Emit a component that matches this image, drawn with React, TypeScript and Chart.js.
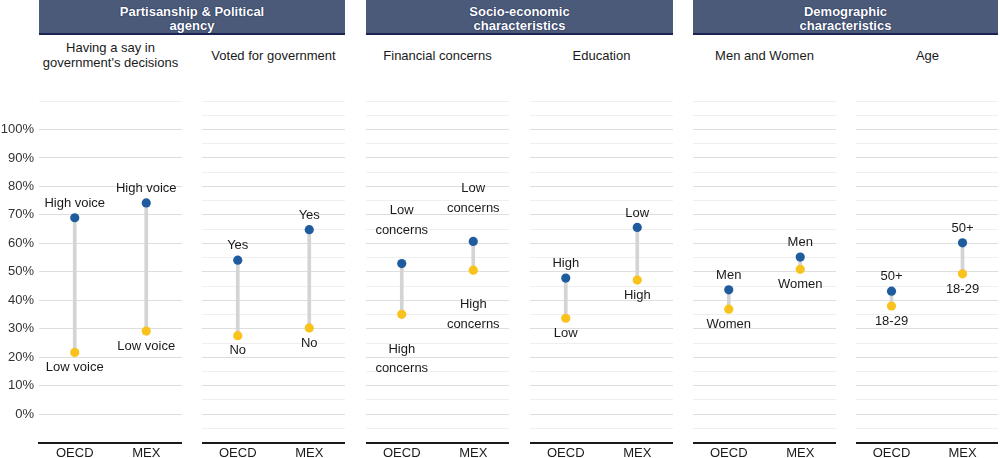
import React, { useEffect, useRef } from "react";
import { Chart, registerables } from "chart.js";

Chart.register(...registerables);

// Categories shared by every panel
const categories = ["OECD", "MEX"];

// Panel titles and group headers
const groupTitles = ["Partisanship & Political\nagency", "Socio-economic\ncharacteristics", "Demographic\ncharacteristics"];
const panelTitles = [
  "Having a say in\ngovernment's decisions",
  "Voted for government",
  "Financial concerns",
  "Education",
  "Men and Women",
  "Age",
];

// Upper (blue) values per panel: [OECD, MEX], in %
const voiceHigh = [69, 74.2];
const votedHigh = [54.1, 64.8];
const financeHigh = [52.9, 60.7];
const educationHigh = [47.8, 65.6];
const genderHigh = [43.7, 55.2];
const ageHigh = [43.2, 60.2];

// Lower (yellow) values per panel: [OECD, MEX], in %
const voiceLow = [21.7, 29.2];
const votedLow = [27.6, 30.3];
const financeLow = [35.1, 50.6];
const educationLow = [33.7, 47.1];
const genderLow = [36.9, 50.9];
const ageLow = [38.0, 49.3];

// Point labels
const voiceHighLabels = ["High voice", "High voice"];
const voiceLowLabels = ["Low voice", "Low voice"];
const votedHighLabels = ["Yes", "Yes"];
const votedLowLabels = ["No", "No"];
const financeHighLabels = ["Low\nconcerns", "Low\nconcerns"];
const financeLowLabels = ["High\nconcerns", "High\nconcerns"];
const educationHighLabels = ["High", "Low"];
const educationLowLabels = ["Low", "High"];
const genderHighLabels = ["Men", "Men"];
const genderLowLabels = ["Women", "Women"];
const ageHighLabels = ["50+", "50+"];
const ageLowLabels = ["18-29", "18-29"];

const panels = [
  { high: voiceHigh, low: voiceLow, highLabels: voiceHighLabels, lowLabels: voiceLowLabels },
  { high: votedHigh, low: votedLow, highLabels: votedHighLabels, lowLabels: votedLowLabels },
  { high: financeHigh, low: financeLow, highLabels: financeHighLabels, lowLabels: financeLowLabels },
  { high: educationHigh, low: educationLow, highLabels: educationHighLabels, lowLabels: educationLowLabels },
  { high: genderHigh, low: genderLow, highLabels: genderHighLabels, lowLabels: genderLowLabels },
  { high: ageHigh, low: ageLow, highLabels: ageHighLabels, lowLabels: ageLowLabels },
];

const FONT = "'Liberation Sans', Arial, sans-serif";
const BLUE = "#1f5c9e";
const YELLOW = "#f9c21d";
const PANEL_LEFT = [39, 202, 366, 530, 693, 856];
const PANEL_W = 143;
const AXIS_W = 39;
const H = 458;
const TOP = 101;
const X_AXIS_H = 15.3;

// Draws the category labels next to each dot: upper dot labels above, lower dot labels below
const pointLabelPlugin = {
  id: "pointLabels",
  afterDatasetsDraw(chart: any) {
    const cfg = chart.options.plugins.pointLabels;
    const ctx = chart.ctx;
    ctx.save();
    ctx.font = `13px ${FONT}`;
    ctx.fillStyle = "#1a1a1a";
    ctx.textAlign = "center";
    ctx.textBaseline = "middle";
    const lh = 19.7;
    const drawSet = (dsIndex: number, labels: string[], above: boolean) => {
      const meta = chart.getDatasetMeta(dsIndex);
      meta.data.forEach((pt: any, i: number) => {
        const lines = labels[i].split("\n");
        const n = lines.length;
        lines.forEach((line, k) => {
          let y;
          if (above) {
            const off = n > 1 ? cfg.aboveMulti : cfg.above;
            y = pt.y - off - (n - 1 - k) * lh;
          } else {
            const off = n > 1 ? cfg.belowMulti : cfg.below;
            y = pt.y + off + k * lh;
          }
          ctx.fillText(line, pt.x, y);
        });
      });
    };
    drawSet(1, cfg.highLabels, true);
    drawSet(2, cfg.lowLabels, false);
    ctx.restore();
  },
};

function Panel({ index }: { index: number }) {
  const ref = useRef<HTMLCanvasElement>(null);
  const p = panels[index];
  const first = index === 0;
  const left = first ? 0 : PANEL_LEFT[index];
  const width = first ? PANEL_LEFT[0] + PANEL_W : index === 5 ? 998 - PANEL_LEFT[5] : PANEL_W;

  useEffect(() => {
    if (!ref.current) return;
    const chart = new Chart(ref.current, {
      type: "bar",
      data: {
        labels: categories,
        datasets: [
          {
            type: "bar",
            data: p.low.map((v, i) => [v, p.high[i]]),
            backgroundColor: "#d4d4d4",
            borderWidth: 0,
            barThickness: 3,
            order: 3,
          } as any,
          {
            type: "line",
            data: p.high,
            showLine: false,
            pointRadius: 4.6,
            pointBackgroundColor: BLUE,
            pointBorderColor: BLUE,
            pointBorderWidth: 0,
            order: 1,
          },
          {
            type: "line",
            data: p.low,
            showLine: false,
            pointRadius: 4.6,
            pointBackgroundColor: YELLOW,
            pointBorderColor: YELLOW,
            pointBorderWidth: 0,
            order: 1,
          },
        ],
      },
      options: {
        animation: false,
        responsive: false,
        maintainAspectRatio: false,
        layout: { autoPadding: false, padding: { top: TOP, left: 0, right: 0, bottom: 0 } },
        plugins: {
          legend: { display: false },
          tooltip: { enabled: false },
          title: { display: false },
          pointLabels: {
            highLabels: p.highLabels,
            lowLabels: p.lowLabels,
            above: 14.3,
            below: 15.2,
            aboveMulti: 33.4,
            belowMulti: 34.7,
          },
        } as any,
        scales: {
          x: {
            offset: true,
            grid: { display: false, drawTicks: false },
            border: { display: true, color: "#1a1a1a", width: 2 },
            ticks: { color: "#1a1a1a", font: { family: FONT, size: 13 }, padding: 3, maxRotation: 0 },
            afterFit: (s: any) => {
              s.height = X_AXIS_H;
            },
          },
          y: {
            min: -10,
            max: 110,
            border: { display: false },
            grid: {
              drawTicks: false,
              lineWidth: 1,
              color: (c: any) => {
                const v = c.tick?.value;
                return v % 10 === 0 && v >= 0 && v <= 100 ? "#dedede" : "#efefef";
              },
            },
            ticks: {
              display: first,
              stepSize: 5,
              padding: 5,
              color: "#333333",
              font: { family: FONT, size: 13 },
              callback: (v: any) => (v % 10 === 0 && v >= 0 && v <= 100 ? `${v}%` : ""),
            },
            afterFit: (s: any) => {
              s.width = first ? AXIS_W : 0;
            },
          },
        },
      },
      plugins: [pointLabelPlugin],
    });
    return () => chart.destroy();
  }, []);

  return (
    <canvas
      ref={ref}
      width={width}
      height={H}
      style={{ position: "absolute", left, top: 0, width, height: H }}
    />
  );
}

export default function App() {
  const groups = [0, 1, 2].map((g) => {
    const l = PANEL_LEFT[g * 2];
    const r = g === 2 ? 998 : PANEL_LEFT[g * 2 + 1] + PANEL_W;
    return { left: l, width: r - l };
  });
  return (
    <div style={{ position: "absolute", left: 0, top: 0, width: 1000, height: H, background: "#fff", overflow: "hidden" }}>
      {groups.map((g, i) => (
        <div
          key={`g${i}`}
          style={{
            position: "absolute",
            left: g.left,
            top: 0,
            width: g.width,
            height: 35,
            background: "#4a5a78",
            borderBottom: "2px solid #1b2452",
            color: "#fff",
            fontFamily: FONT,
            fontWeight: "bold",
            fontSize: 13,
            lineHeight: "14px",
            textAlign: "center",
            whiteSpace: "pre-line",
            paddingTop: 5,
            boxSizing: "border-box",
            textShadow: "0 0 1px #1b2452, 0 0 1px #1b2452",
          }}
        >
          {groupTitles[i]}
        </div>
      ))}
      {panelTitles.map((t, i) => (
        <div
          key={`t${i}`}
          style={{
            position: "absolute",
            left: PANEL_LEFT[i],
            top: 41,
            width: PANEL_W,
            height: 28,
            display: "flex",
            alignItems: "center",
            justifyContent: "center",
            textAlign: "center",
            whiteSpace: "pre-line",
            fontFamily: FONT,
            fontSize: 13,
            lineHeight: "15px",
            color: "#1a1a1a",
          }}
        >
          {t}
        </div>
      ))}
      {panels.map((_, i) => (
        <Panel key={i} index={i} />
      ))}
    </div>
  );
}
